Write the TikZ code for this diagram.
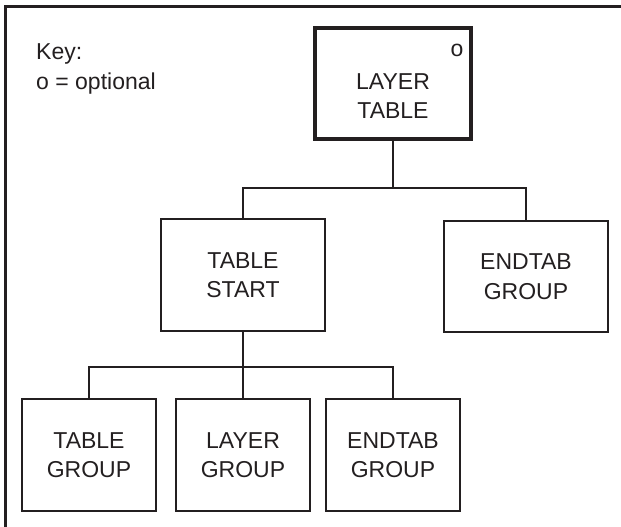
\documentclass[tikz,border=0pt]{standalone}
\usepackage{fontspec}
\setmainfont{Liberation Sans}
\definecolor{ink}{HTML}{231F20}
\begin{document}
\begin{tikzpicture}[x=1pt,y=-1pt,
  every node/.style={font=\fontsize{23}{29.5}\selectfont, text=ink, inner sep=0pt},
  box/.style={draw=ink, line width=2.4pt, rectangle, align=center},
  thickbox/.style={draw=ink, line width=4.5pt, rectangle},
  conn/.style={draw=ink, line width=2.2pt},
  txt/.style={align=center}]
\useasboundingbox (0,0) rectangle (621,527);
% frame (top and left edges only visible)
\draw[ink, line width=2.6pt] (5.5,527) coordinate (fbl) -- (5.5,6.5) coordinate (ftl) -- (621,6.5) coordinate (ftr);
% key
\node[anchor=north west, align=left] (key) at (36,43.5) {Key:\\o = optional};
% top box
\node[thickbox, minimum width=156pt, minimum height=111pt] (lt) at (393,83.5) {};
\node[txt] (lttxt) at (393,96) {LAYER\\TABLE};
\node[anchor=base] (opt) at (457,56.7) {o};
% second level
\node[box, minimum width=164pt, minimum height=112pt] (ts) at (243,275) {TABLE\\START};
\node[box, minimum width=164pt, minimum height=111pt] (er) at (526,276.5) {ENDTAB\\GROUP};
% third level
\node[box, minimum width=134pt, minimum height=112pt] (tg) at (89,455) {TABLE\\GROUP};
\node[box, minimum width=134pt, minimum height=112pt] (lg) at (243,455) {LAYER\\GROUP};
\node[box, minimum width=134pt, minimum height=112pt] (eg) at (393,455) {ENDTAB\\GROUP};
% connectors
\coordinate (j1) at (393,188);
\coordinate (j2) at (243,367);
\draw[conn] (lt.south) -- (j1);
\draw[conn] (ts.north) |- (j1) -| (er.north);
\draw[conn] (ts.south) -- (j2);
\draw[conn] (tg.north) |- (j2) -| (eg.north);
\draw[conn] (lg.north) -- (j2);
\end{tikzpicture}
\end{document}
